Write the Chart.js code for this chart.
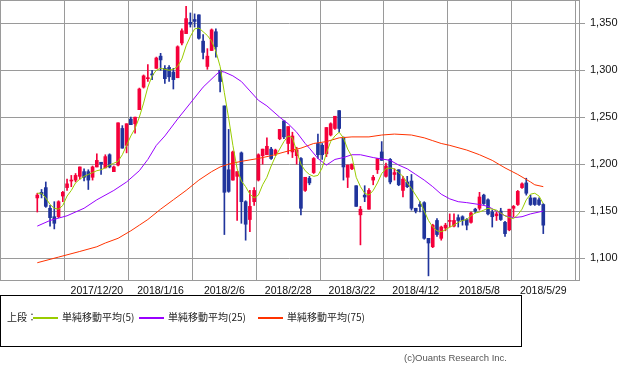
<!DOCTYPE html>
<html lang="ja">
<head>
<meta charset="utf-8">
<script src="https://cdn.jsdelivr.net/npm/chart.js@4.4.0/dist/chart.umd.min.js"></script>
<style>
  html, body { margin:0; padding:0; background:#fff; }
  body { width:633px; height:371px; position:relative; overflow:hidden; font-family:"Liberation Sans", Arial, sans-serif; }
  #chart { position:absolute; left:0; top:0; }
  #legend { position:absolute; left:0; top:295px; width:522px; height:52px; box-sizing:border-box; border:1px solid #000;
            font-family:"Noto Sans CJK JP", sans-serif; font-size:10px; color:#222; }
  #legend .t { position:absolute; top:15px; line-height:12px; white-space:nowrap; }
  #legend .l { position:absolute; top:21px; width:25px; height:2px; }
  #copy { position:absolute; right:126px; top:352px; font-size:9.5px; color:#555; white-space:nowrap; }
</style>
</head>
<body>
<canvas id="chart" width="633" height="300"></canvas>
<div id="legend">
  <span class="t" style="left:6px">上段：</span>
  <span class="l" style="left:32px;background:#99cc00"></span>
  <span class="t" style="left:61px">単純移動平均(5)</span>
  <span class="l" style="left:138px;background:#9900ff"></span>
  <span class="t" style="left:167px">単純移動平均(25)</span>
  <span class="l" style="left:257px;background:#ff3300"></span>
  <span class="t" style="left:286px">単純移動平均(75)</span>
</div>
<div id="copy">(c)Ouants Research Inc.</div>
<script>
'use strict';

// trading days (categories)
const dates = [
  '2017/11/30','2017/12/1','2017/12/4','2017/12/5','2017/12/6','2017/12/7','2017/12/8','2017/12/11','2017/12/12','2017/12/13',
  '2017/12/14','2017/12/15','2017/12/18','2017/12/19','2017/12/20','2017/12/21','2017/12/22','2017/12/25','2017/12/26','2017/12/27',
  '2017/12/28','2017/12/29','2018/1/4','2018/1/5','2018/1/9','2018/1/10','2018/1/11','2018/1/12','2018/1/15','2018/1/16',
  '2018/1/17','2018/1/18','2018/1/19','2018/1/22','2018/1/23','2018/1/24','2018/1/25','2018/1/26','2018/1/29','2018/1/30',
  '2018/1/31','2018/2/1','2018/2/2','2018/2/5','2018/2/6','2018/2/7','2018/2/8','2018/2/9','2018/2/13','2018/2/14',
  '2018/2/15','2018/2/16','2018/2/19','2018/2/20','2018/2/21','2018/2/22','2018/2/23','2018/2/26','2018/2/27','2018/2/28',
  '2018/3/1','2018/3/2','2018/3/5','2018/3/6','2018/3/7','2018/3/8','2018/3/9','2018/3/12','2018/3/13','2018/3/14',
  '2018/3/15','2018/3/16','2018/3/19','2018/3/20','2018/3/22','2018/3/23','2018/3/26','2018/3/27','2018/3/28','2018/3/29',
  '2018/3/30','2018/4/2','2018/4/3','2018/4/4','2018/4/5','2018/4/6','2018/4/9','2018/4/10','2018/4/11','2018/4/12',
  '2018/4/13','2018/4/16','2018/4/17','2018/4/18','2018/4/19','2018/4/20','2018/4/23','2018/4/24','2018/4/25','2018/4/26',
  '2018/4/27','2018/5/1','2018/5/2','2018/5/7','2018/5/8','2018/5/9','2018/5/10','2018/5/11','2018/5/14','2018/5/15',
  '2018/5/16','2018/5/17','2018/5/18','2018/5/21','2018/5/22','2018/5/23','2018/5/24','2018/5/25','2018/5/28','2018/5/29'
];

// OHLC
const open = [1164,1170,1175,1153,1144,1144,1166,1175,1182,1183, 1187,1192,1192,1186,1197,1202,1196,1210,1192,1199,
  1238,1220,1248,1243,1258,1282,1291,1296,1302,1315, 1302,1303,1298,1292,1329,1339,1351,1354,1359,1331,
  1304,1321,1341,1300,1262,1194,1183,1187,1212,1160, 1141,1160,1183,1209,1210,1216,1211,1227,1246,1222,
  1213,1209,1206,1172,1185,1191,1222,1220,1211,1231, 1238,1257,1228,1186,1195,1177,1146,1167,1152,1183,
  1194,1213,1187,1205,1189,1194,1172,1181,1182,1153, 1157,1159,1121,1112,1140,1121,1132,1139,1134,1143,
  1144,1141,1138,1152,1153,1167,1162,1149,1145,1150, 1138,1130,1153,1157,1175,1180,1164,1164,1162,1157];
const high = [1169,1173,1181,1156,1160,1161,1171,1184,1188,1190, 1197,1195,1194,1198,1211,1202,1210,1211,1198,1244,
  1241,1243,1250,1250,1281,1295,1306,1300,1314,1318, 1305,1305,1302,1326,1344,1368,1361,1360,1359,1338,
  1323,1344,1344,1300,1262,1237,1214,1192,1213,1161, 1172,1175,1211,1216,1228,1218,1216,1237,1246,1240,
  1234,1218,1207,1186,1187,1207,1232,1222,1239,1244, 1251,1257,1229,1199,1200,1177,1155,1177,1174,1188,
  1206,1224,1201,1206,1195,1194,1187,1187,1189,1153, 1160,1160,1121,1136,1142,1134,1137,1147,1147,1146,
  1145,1142,1149,1153,1170,1168,1163,1151,1149,1153, 1139,1152,1156,1172,1180,1185,1167,1164,1164,1158];
const low = [1149,1164,1154,1134,1131,1143,1160,1172,1176,1181, 1184,1182,1173,1183,1197,1189,1196,1196,1192,1198,
  1217,1212,1242,1233,1258,1281,1288,1290,1302,1300, 1286,1288,1280,1292,1327,1339,1346,1346,1333,1312,
  1301,1321,1314,1277,1125,1170,1183,1140,1137,1119, 1128,1156,1182,1200,1210,1205,1209,1226,1227,1211,
  1207,1200,1146,1171,1178,1190,1206,1205,1208,1230, 1237,1234,1183,1175,1194,1155,1114,1160,1152,1178,
  1190,1204,1186,1179,1183,1177,1165,1175,1151,1148, 1149,1120,1081,1111,1123,1119,1129,1133,1133,1133,
  1135,1130,1137,1148,1151,1157,1146,1133,1140,1140, 1123,1129,1144,1156,1174,1167,1156,1156,1156,1126];
const close = [1167,1168,1155,1143,1137,1160,1170,1179,1183,1188, 1197,1186,1183,1197,1204,1200,1208,1197,1197,1244,
  1217,1243,1242,1250,1280,1294,1292,1295,1313,1311, 1291,1293,1290,1325,1342,1355,1349,1352,1334,1319,
  1315,1343,1325,1288,1170,1171,1213,1192,1160,1136, 1155,1172,1210,1216,1219,1206,1215,1237,1229,1240,
  1230,1215,1153,1186,1180,1206,1210,1210,1239,1243, 1251,1238,1197,1199,1200,1155,1152,1165,1172,1186,
  1206,1204,1198,1181,1191,1178,1184,1176,1153,1150, 1155,1121,1116,1135,1125,1133,1135,1140,1140,1140,
  1140,1135,1148,1150,1165,1158,1147,1144,1147,1141, 1126,1152,1155,1171,1179,1169,1157,1157,1157,1135];

// moving averages
const ma5 = [1169,1169,1164,1157,1153,1152,1156,1166,1172,1180, 1184,1187,1189,1191,1193,1194,1196,1199,1201,1203,
  1210,1220,1230,1238,1250,1265,1282,1294,1300,1302, 1301,1300,1301,1304,1312,1326,1336,1344,1345,1341,
  1337,1331,1320,1304,1276,1249,1220,1195,1182,1176, 1168,1164,1167,1178,1186,1198,1208,1216,1224,1230,
  1228,1214,1200,1193,1189,1187,1188,1196,1212,1224, 1230,1234,1228,1216,1208,1186,1176,1169,1167,1172,
  1180,1190,1195,1196,1195,1191,1187,1180,1174,1167, 1160,1150,1140,1133,1129,1128,1130,1133,1135,1138,
  1140,1141,1145,1148,1149,1151,1153,1152,1151,1148, 1145,1143,1142,1146,1152,1162,1168,1169,1166,1158];
const ma25 = [[0,1134],[3,1140],[7,1145],[11,1153],[14,1162],[18,1172],[21,1181],[24,1193],[26,1205],[28,1220],
  [30,1230],[33,1248],[36,1265],[39,1282],[42,1295],[43,1299],[44,1298],[46,1294],[48,1288],[50,1278],
  [52,1268],[54,1262],[57,1250],[59,1243],[61,1234],[63,1222],[64,1217],[66,1206],[68,1199],[70,1205],
  [72,1207],[74,1210],[76,1210],[79,1207],[83,1204],[85,1199],[87,1195],[89,1189],[91,1183],[93,1176],
  [95,1168],[97,1163],[99,1160],[101,1159],[104,1157],[106,1155],[108,1150],[110,1145],[112,1143],[114,1144],
  [116,1147],[119,1150]];
const ma75 = [[0,1095],[5,1101],[10,1107],[14,1112],[16,1116],[19,1121],[22,1129],[24,1135],[26,1141],[29,1152],
  [32,1162],[35,1172],[38,1183],[41,1192],[43,1197],[45,1200],[48,1203],[52,1206],[55,1209],[59,1214],
  [62,1217],[65,1222],[68,1224],[71,1228],[74,1229],[78,1229],[81,1231],[84,1232],[88,1231],[91,1228],
  [93,1225],[95,1222],[97,1220],[101,1215],[104,1210],[107,1204],[110,1196],[113,1189],[116,1181],[117,1178],
  [119,1176]];

const xTickIdx = [14, 29, 44, 59, 74, 89, 104, 119];
const yTicks = [1100, 1150, 1200, 1250, 1300, 1350];

const RED = '#f5003a';
const BLUE = '#20349c';
const GRID = '#9a9a9a';

Chart.defaults.font.family = '"Liberation Sans", Arial, sans-serif';

const candleColors = dates.map((d, i) => close[i] >= open[i] ? RED : BLUE);
const wicks = dates.map((d, i) => ({ x: i, y: [low[i], high[i]] }));
const bodies = dates.map((d, i) => ({ x: i, y: [open[i], close[i]] }));
const pairs = arr => arr.map(([x, y]) => ({ x, y }));

// plot frame (top/left edges)
const frame = {
  id: 'frame',
  afterDraw(chart) {
    const { ctx, chartArea: a } = chart;
    ctx.save();
    ctx.strokeStyle = GRID;
    ctx.lineWidth = 1;
    ctx.strokeRect(Math.floor(a.left) + 0.5, Math.floor(a.top) + 0.5,
      Math.round(a.right - a.left), Math.round(a.bottom - a.top));
    ctx.restore();
  }
};

new Chart(document.getElementById('chart'), {
  type: 'bar',
  data: {
    datasets: [
      { type: 'line', data: ma5.map((v, i) => ({ x: i, y: v })), borderColor: '#99cc00', borderWidth: 1, pointRadius: 0, tension: 0, order: 0 },
      { type: 'line', data: pairs(ma25), borderColor: '#9900ff', borderWidth: 1, pointRadius: 0, tension: 0, order: 0 },
      { type: 'line', data: pairs(ma75), borderColor: '#ff3300', borderWidth: 1, pointRadius: 0, tension: 0, order: 0 },
      { data: bodies, backgroundColor: candleColors, barThickness: 3, minBarLength: 1, grouped: false, order: 2 },
      { data: wicks, backgroundColor: candleColors, barThickness: 1, grouped: false, order: 3 }
    ]
  },
  options: {
    responsive: false,
    animation: false,
    devicePixelRatio: 1,
    layout: { padding: 0 },
    plugins: { legend: { display: false }, tooltip: { enabled: false } },
    scales: {
      x: {
        type: 'linear', min: -8.77, max: 127.4, offset: false,
        afterBuildTicks: s => { s.ticks = xTickIdx.map(v => ({ value: v })); },
        afterFit: s => { s.height = 20; s.paddingLeft = 0; s.paddingRight = 0; },
        ticks: { callback: v => dates[v], font: { size: 10.5 }, color: '#111', maxRotation: 0, autoSkip: false, padding: 5 },
        grid: { color: GRID, drawTicks: false },
        border: { color: GRID }
      },
      y: {
        type: 'linear', position: 'right', min: 1076.6, max: 1374.8,
        afterBuildTicks: s => { s.ticks = yTicks.map(v => ({ value: v })); },
        afterFit: s => { s.width = 54; s.paddingTop = 0; s.paddingBottom = 0; },
        ticks: { callback: v => v.toLocaleString('en-US'), font: { size: 11 }, color: '#111', padding: 5 },
        grid: { color: GRID, tickLength: 6 },
        border: { color: GRID }
      }
    }
  },
  plugins: [frame]
});
</script>
</body>
</html>
